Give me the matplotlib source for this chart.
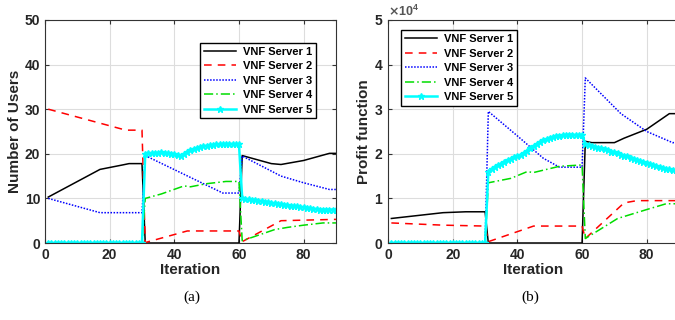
import numpy as np
import matplotlib
matplotlib.use('Agg')
import matplotlib.pyplot as plt
from matplotlib.ticker import ScalarFormatter

plt.rcParams['font.family'] = ['Liberation Sans', 'DejaVu Sans']
plt.rcParams['font.weight'] = 'bold'

labels = ['VNF Server 1', 'VNF Server 2', 'VNF Server 3', 'VNF Server 4', 'VNF Server 5']
iters = np.arange(1, 91)

# ---- (a) number of users: breakpoints for servers 1-4 ----
users_s1_x = [1, 17, 24, 26, 30, 31, 60, 61, 70, 73, 80, 88, 90]
users_s1_y = [10.3, 16.5, 17.5, 17.8, 17.8, 0, 0, 19.6, 17.8, 17.6, 18.5, 20.1, 20.1]
users_s2_x = [1, 25, 30, 31, 44, 60, 61, 73, 90]
users_s2_y = [30, 25.3, 25.3, 0.1, 2.7, 2.7, 0.3, 5.0, 5.3]
users_s3_x = [1, 17, 30, 31, 55, 60, 61, 73, 80, 88, 90]
users_s3_y = [10, 6.8, 6.8, 19.6, 11.2, 11.2, 19.5, 15.0, 13.5, 12.0, 12.0]
users_s4_x = [1, 30, 31, 36, 43, 45, 50, 56, 60, 61, 71, 75, 80, 86, 90]
users_s4_y = [0, 0, 10, 11, 12.8, 12.6, 13.3, 13.8, 13.8, 0.5, 3.0, 3.5, 4.0, 4.5, 4.5]
users_s5 = [0] * 30 + [
    20.0, 20.1, 20.1, 20.2, 20.2, 20.3, 20.2, 20.1, 20.0, 19.9,
    19.7, 19.6, 19.9, 20.4, 20.8, 21.1, 21.3, 21.5, 21.7, 21.8,
    21.9, 22.0, 22.1, 22.1, 22.2, 22.2, 22.2, 22.2, 22.1, 22.1,
    10.0, 9.9, 9.8, 9.7, 9.6, 9.5, 9.4, 9.3, 9.2, 9.0,
    8.9, 8.8, 8.7, 8.6, 8.5, 8.4, 8.3, 8.2, 8.1, 8.0,
    7.9, 7.8, 7.7, 7.6, 7.5, 7.5, 7.5, 7.5, 7.5, 7.5]

# ---- (b) profit (x 10^4) ----
profit_s1_x = [1, 17, 24, 30, 31, 60, 61, 63, 70, 73, 80, 87, 90]
profit_s1_y = [0.55, 0.68, 0.70, 0.70, 0, 0, 2.28, 2.25, 2.25, 2.35, 2.55, 2.9, 2.9]
profit_s2_x = [1, 17, 30, 31, 45, 60, 61, 73, 77, 90]
profit_s2_y = [0.45, 0.40, 0.38, 0.03, 0.38, 0.38, 0.10, 0.90, 0.95, 0.95]
profit_s3_x = [1, 30, 31, 40, 48, 53, 60, 61, 72, 80, 88, 90]
profit_s3_y = [0, 0, 2.95, 2.4, 1.9, 1.7, 1.7, 3.7, 2.9, 2.5, 2.25, 2.25]
profit_s4_x = [1, 30, 31, 38, 43, 45, 53, 60, 61, 71, 80, 86, 90]
profit_s4_y = [0, 0, 1.35, 1.45, 1.6, 1.58, 1.72, 1.75, 0.1, 0.55, 0.75, 0.88, 0.88]
profit_s5 = [0] * 30 + [
    1.60, 1.65, 1.70, 1.74, 1.78, 1.82, 1.86, 1.89, 1.92, 1.95,
    1.98, 2.02, 2.07, 2.12, 2.17, 2.22, 2.26, 2.30, 2.33, 2.36,
    2.38, 2.40, 2.41, 2.42, 2.42, 2.43, 2.43, 2.42, 2.42, 2.42,
    2.22, 2.20, 2.18, 2.16, 2.14, 2.12, 2.10, 2.08, 2.05, 2.03,
    2.01, 1.98, 1.96, 1.94, 1.91, 1.89, 1.86, 1.84, 1.81, 1.79,
    1.77, 1.74, 1.72, 1.70, 1.68, 1.66, 1.65, 1.64, 1.63, 1.62]

styles = [dict(color='black', ls='-', lw=1.1),
          dict(color='red', ls=(0, (5, 4)), lw=1.1),
          dict(color='blue', ls=(0, (1, 1)), lw=1.1),
          dict(color='#00dd00', ls=(0, (6, 2, 1, 2)), lw=1.1),
          dict(color='cyan', ls='-', lw=1.8, marker='*', ms=5)]

fig = plt.figure(figsize=(6.75, 3.2), dpi=100)
ax1 = fig.add_axes([0.0667, 0.2406, 0.431, 0.697])
ax2 = fig.add_axes([0.575, 0.2406, 0.431, 0.697])

series_a = [(users_s1_x, users_s1_y), (users_s2_x, users_s2_y),
            (users_s3_x, users_s3_y), (users_s4_x, users_s4_y),
            (iters, users_s5)]
scale = 1e4
series_b = [(profit_s1_x, np.array(profit_s1_y) * scale),
            (profit_s2_x, np.array(profit_s2_y) * scale),
            (profit_s3_x, np.array(profit_s3_y) * scale),
            (profit_s4_x, np.array(profit_s4_y) * scale),
            (iters, np.array(profit_s5) * scale)]

for ax, series in [(ax1, series_a), (ax2, series_b)]:
    for (x, y), st, lab in zip(series, styles, labels):
        ax.plot(x, y, label=lab, **st)
    ax.set_xlim(0, 90)
    ax.set_xticks([0, 20, 40, 60, 80])
    ax.grid(True, color='#dddddd', lw=0.8)
    ax.set_axisbelow(True)
    ax.tick_params(direction='in', top=True, right=True, labelsize=10,
                   length=3, colors='#333333', labelcolor='#262626')
    for lbl in ax.get_xticklabels() + ax.get_yticklabels():
        lbl.set_fontweight('bold')
    ax.set_xlabel('Iteration', fontsize=11, fontweight='bold', labelpad=1, color='#262626')
    for sp in ax.spines.values():
        sp.set_color('#333333')

leg_kw = dict(fancybox=False, edgecolor='black', framealpha=1, handlelength=2.9,
              borderpad=0.35, labelspacing=0.4, handletextpad=0.6,
              prop={'weight': 'bold', 'size': 8})

ax1.set_ylim(0, 50)
ax1.set_yticks([0, 10, 20, 30, 40, 50])
ax1.set_ylabel('Number of Users', fontsize=11, fontweight='bold', labelpad=2, color='#262626')
ax1.legend(loc='upper right', bbox_to_anchor=(0.95, 0.922), **leg_kw)

ax2.set_ylim(0, 5e4)
ax2.set_yticks([0, 1e4, 2e4, 3e4, 4e4, 5e4])
fmt = ScalarFormatter(useMathText=True)
fmt.set_powerlimits((0, 0))
ax2.yaxis.set_major_formatter(fmt)
ax2.yaxis.get_offset_text().set_fontsize(9)
ax2.yaxis.get_offset_text().set_color('#555555')
ax2.set_ylabel('Profit function', fontsize=11, fontweight='bold', labelpad=2, color='#262626')
ax2.legend(loc='upper left', bbox_to_anchor=(0.025, 0.978), **leg_kw)

fig.text(0.285, 0.06, '(a)', fontsize=11, fontweight='normal',
         family=['Liberation Serif', 'DejaVu Serif'], ha='center')
fig.text(0.785, 0.06, '(b)', fontsize=11, fontweight='normal',
         family=['Liberation Serif', 'DejaVu Serif'], ha='center')

fig.savefig('out.png', dpi=100)
